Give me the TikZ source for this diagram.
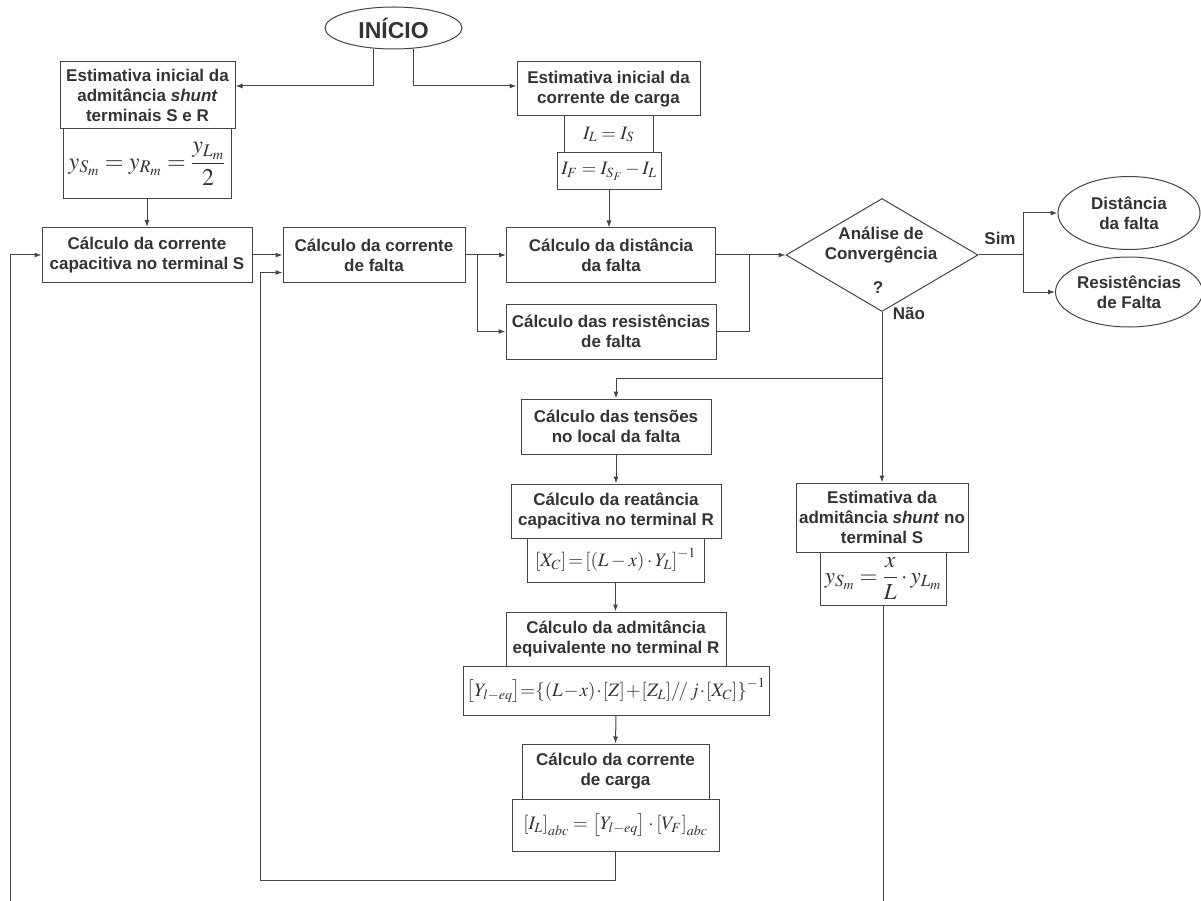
\documentclass[tikz,border=0pt]{standalone}
\usepackage{mathptmx}
\usepackage{fontspec}
\setmainfont{Liberation Sans}
\usetikzlibrary{shapes.geometric,arrows.meta,calc}
\definecolor{ink}{HTML}{333333}
\definecolor{edge}{HTML}{444444}
\begin{document}
\begin{tikzpicture}[x=1pt,y=-1pt,
  every node/.style={text=ink, font=\fontsize{17}{20}\selectfont\bfseries},
  box/.style={draw=edge, line width=1pt, rectangle, inner sep=0pt, align=center},
  frm/.style={box, font=\fontsize{19}{22}\selectfont},
  oval/.style={draw=edge, line width=1pt, ellipse, inner sep=0pt, align=center},
  arr/.style={draw=edge, line width=1pt, -{Latex[length=7pt,width=5pt]}},
  wire/.style={draw=edge, line width=1pt},
  lbl/.style={inner sep=0pt}
]
\useasboundingbox (0,0) rectangle (1201,901);

% start
\node[oval, minimum width=137pt, minimum height=42pt, font=\fontsize{23}{26}\selectfont\bfseries] (inicio) at (393.5,28) {INÍCIO};

% left top
\node[box, minimum width=175pt, minimum height=67pt] (b1) at (147.5,95.5) {Estimativa inicial da\\admitância \textit{shunt}\\terminais S e R};
\node[frm, minimum width=168pt, minimum height=70pt, font=\fontsize{24}{27}\selectfont] (f1) at (147,164) {$\displaystyle y_{S_m} = y_{R_m} = \frac{y_{L_m}}{2}$};

% middle top
\node[box, minimum width=183pt, minimum height=54pt] (b2) at (608.5,89) {Estimativa inicial da\\corrente de carga};
\node[frm, minimum width=89pt, minimum height=37pt] (f2a) at (608.5,134.5) {$I_L = I_S$};
\node[frm, minimum width=104pt, minimum height=37pt] (f2b) at (609,171.5) {$I_F = I_{S_F} - I_L$};

% row
\node[box, minimum width=210pt, minimum height=55pt] (b3) at (147,255) {Cálculo da corrente\\capacitiva no terminal S};
\node[box, minimum width=182pt, minimum height=55pt] (b4) at (374,255) {Cálculo da corrente\\de falta};
\node[box, minimum width=209pt, minimum height=54pt] (b5) at (611,255) {Cálculo da distância\\da falta};
\node[box, minimum width=210pt, minimum height=55pt] (b6) at (611,331.5) {Cálculo das resistências\\de falta};

% decision
\node[draw=edge, line width=1pt, diamond, aspect=1.7, inner sep=0pt, minimum width=192pt, minimum height=113pt] (dia) at (882,255) {};
\node[lbl, align=center] (diat) at (881,245) {Análise de\\Convergência};
\node[lbl] (q) at (878,288) {?};
\node[lbl] (nao) at (909,313) {Não};
\node[lbl] (sim) at (1000,238) {Sim};

% outputs
\node[oval, minimum width=142pt, minimum height=73pt] (e1) at (1129,213) {Distância\\da falta};
\node[oval, minimum width=142pt, minimum height=70pt] (e2) at (1129,292) {Resistências\\de Falta};

% middle column
\node[box, minimum width=190pt, minimum height=55pt] (b7) at (616,426.5) {Cálculo das tensões\\no local da falta};
\node[box, minimum width=210pt, minimum height=54pt] (b8) at (616,511) {Cálculo da reatância\\capacitiva no terminal R};
\node[frm, minimum width=177pt, minimum height=44pt] (f8) at (615.5,560) {$\left[X_C\right]\! = \!\left[(L-x)\cdot Y_L\right]^{-1}$};
\node[box, minimum width=220pt, minimum height=54pt] (b9) at (616,639) {Cálculo da admitância\\equivalente no terminal R};
\node[frm, minimum width=306pt, minimum height=49pt] (f9) at (616,690.5) {\medmuskip=1mu\thickmuskip=2mu$\left[Y_{l-eq}\right]\! = \!\left\{(L-x)\cdot[Z]+[Z_L]/\!/\,j\cdot[X_C]\right\}^{-1}$};
\node[box, minimum width=187pt, minimum height=55pt] (b10) at (615.5,771.5) {Cálculo da corrente\\de carga};
\node[frm, minimum width=207pt, minimum height=52pt] (f10) at (615.5,825) {$\left[I_L\right]_{abc} = \left[Y_{l-eq}\right]\cdot\left[V_F\right]_{abc}$};

% right column
\node[box, minimum width=172pt, minimum height=69pt] (b11) at (882,517.5) {Estimativa da\\admitância \textit{shunt} no\\terminal S};
\node[frm, minimum width=126pt, minimum height=53pt, font=\fontsize{23}{26}\selectfont] (f11) at (883,578.5) {$\displaystyle y_{S_m} = \frac{x}{L}\cdot y_{L_m}$};

% helper coordinates
\coordinate (j1) at (477,255);
\coordinate (j2) at (749,255);
\coordinate (j3) at (1023,255);
\coordinate (nb) at (882,378);
\coordinate (lp) at (260,880);
\coordinate (lb) at (10,901);
\coordinate (rb) at (883,901);

% connectors
\draw[arr] (inicio.226) |- ([yshift=9.5pt]b1.east);
\draw[arr] (inicio.314) |- ([yshift=3pt]b2.west);
\draw[arr] (f1.south) -- (b3.north);
\draw[arr] (f2b.south) -- (f2b.south |- b5.north);
\draw[arr] (b3.east) -- (b4.west);
\draw[arr] (b4.east) -- (b5.west);
\draw[arr] (j1) |- (b6.west);
\draw[arr] (b5.east) -- (dia.west);
\draw[wire] (b6.east) -| (j2);
\draw[wire] (dia.east) -- (j3);
\draw[arr] (j3) |- (e1.west);
\draw[arr] (j3) |- (e2.west);
\draw[arr] (dia.south) -- (b11.north);
\draw[arr] (nb) -| (b7.north);
\draw[arr] (b7.south) -- (b8.north);
\draw[arr] (f8.south) -- (f8.south |- b9.north);
\draw[arr] (f9.south) -- (b10.north);
\draw[arr] (f10.south) |- (lp) |- ([yshift=-17.5pt]b4.west);
\draw[arr] (lb) |- (b3.west);
\draw[wire] (f11.south) -- (rb);
\end{tikzpicture}
\end{document}
